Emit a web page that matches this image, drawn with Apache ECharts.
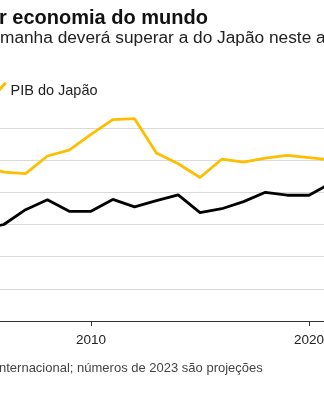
<!DOCTYPE html>
<html>
<head>
<meta charset="utf-8">
<script src="https://cdn.jsdelivr.net/npm/echarts@6/dist/echarts.min.js"></script>
<style>
  html, body { margin: 0; padding: 0; background: #fff; overflow: hidden; }
  #wrap { position: relative; width: 324px; height: 400px; overflow: hidden; background: #fff; }
  #chart { position: absolute; top: 0; left: -130px; width: 660px; height: 400px; }
</style>
</head>
<body>
<div id="wrap"><div id="chart"></div></div>
<script>
// Nominal GDP, trillions of US dollars
const years   = [2005, 2006, 2007, 2008, 2009, 2010, 2011, 2012, 2013, 2014, 2015, 2016, 2017, 2018, 2019, 2020, 2021];
const japan   = [4.83, 4.63, 4.58, 5.13, 5.31, 5.80, 6.26, 6.29, 5.22, 4.89, 4.46, 5.03, 4.94, 5.06, 5.15, 5.08, 5.01];
const germany = [2.85, 3.00, 3.46, 3.77, 3.41, 3.41, 3.78, 3.55, 3.74, 3.92, 3.37, 3.49, 3.71, 4.00, 3.91, 3.91, 4.28];

// Axis ticks
const yearTicks = [2010, 2020];

// Texts
const titleText  = 'r economia do mundo';
const subtitle   = 'manha deverá superar a do Japão neste ano';
const legendText = 'PIB do Japão';
const sourceText = 'nternacional; números de 2023 são projeções';

const SHIFT = 130;               // the chart canvas starts 130px left of the visible frame
const FONT = '"Liberation Sans", Arial, sans-serif';
const YELLOW = '#fcbf00';

const chart = echarts.init(document.getElementById('chart'), null, { renderer: 'canvas' });

const pairs = (vals) => years.map((y, i) => [y, vals[i]]);

chart.setOption({
  backgroundColor: '#fff',
  animation: false,
  grid: { left: 0, right: 0, top: 128, bottom: 79, containLabel: false },
  xAxis: {
    type: 'value',
    min: 2000, max: 2030, interval: 10,
    axisLine: { show: true, lineStyle: { color: '#333', width: 1 } },
    axisTick: { show: true, length: 5, lineStyle: { color: '#333', width: 1 } },
    axisLabel: {
      show: true, margin: 12, color: '#222', fontSize: 13.5, fontFamily: FONT,
      formatter: (v) => (yearTicks.indexOf(v) >= 0 ? String(v) : '')
    },
    splitLine: { show: false }
  },
  yAxis: {
    type: 'value',
    min: 0, max: 6, interval: 1,
    axisLine: { show: false },
    axisTick: { show: false },
    axisLabel: { show: false },
    splitLine: { show: true, lineStyle: { color: '#d9d9d9', width: 1 } }
  },
  series: [
    {
      name: 'PIB do Japão', type: 'line', data: pairs(japan),
      symbol: 'none', clip: false,
      lineStyle: { color: YELLOW, width: 2.8 }
    },
    {
      name: 'PIB da Alemanha', type: 'line', data: pairs(germany),
      symbol: 'none', clip: false,
      lineStyle: { color: '#000', width: 2.8 }
    }
  ],
  graphic: [
    {
      type: 'text', left: SHIFT - 1, top: 8,
      style: { text: titleText, font: 'bold 20px ' + FONT, fill: '#111' }
    },
    {
      type: 'text', left: SHIFT, top: 30,
      style: { text: subtitle, font: '17.3px ' + FONT, fill: '#222' }
    },
    {
      type: 'polyline',
      shape: { points: [[SHIFT - 4, 93.5], [SHIFT + 5, 83.5]] },
      style: { stroke: YELLOW, lineWidth: 3, lineCap: 'round', fill: null }
    },
    {
      type: 'text', left: SHIFT + 10.5, top: 83,
      style: { text: legendText, font: '14.5px ' + FONT, fill: '#222' }
    },
    {
      type: 'text', left: SHIFT - 1, top: 362,
      style: { text: sourceText, font: '13px ' + FONT, fill: '#444' }
    }
  ]
});
</script>
</body>
</html>
